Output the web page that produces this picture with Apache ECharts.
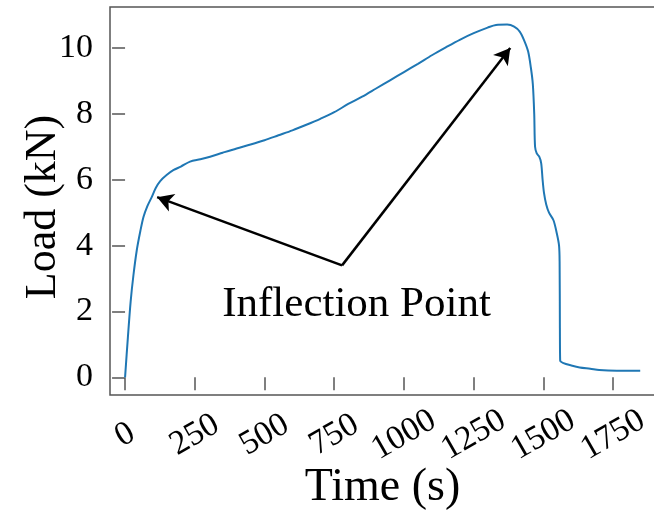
<!DOCTYPE html>
<html>
<head>
<meta charset="utf-8">
<script src="https://cdn.jsdelivr.net/npm/echarts@6/dist/echarts.min.js"></script>
<style>
  html, body { margin: 0; padding: 0; background: #fff; }
  #chart { width: 654px; height: 515px; }
</style>
</head>
<body>
<div id="chart"></div>
<script>
// load curve: time (s) and load (kN)
var times = [0, 10, 20, 30, 42, 55, 66, 80, 96, 110, 126, 150, 173, 200, 233, 270, 305, 350,
  400, 450, 500, 550, 600, 650, 700, 750, 800, 850, 900, 950, 1000, 1050, 1100, 1150, 1200,
  1250, 1300, 1330, 1370, 1395, 1415, 1430, 1445, 1455, 1462, 1467, 1470, 1476, 1485, 1492,
  1497, 1502, 1510, 1520, 1536, 1548, 1556, 1558, 1559, 1560, 1572, 1600, 1630, 1668, 1700,
  1763, 1847];
var loads = [0, 1.2, 2.3, 3.1, 3.86, 4.45, 4.87, 5.2, 5.48, 5.75, 5.96, 6.15, 6.29, 6.4, 6.55,
  6.62, 6.7, 6.82, 6.95, 7.07, 7.2, 7.35, 7.5, 7.67, 7.85, 8.05, 8.3, 8.52, 8.77, 9.02, 9.27,
  9.52, 9.78, 10.02, 10.25, 10.45, 10.62, 10.7, 10.71, 10.65, 10.5, 10.25, 9.9, 9.4, 8.9, 8.0,
  7.0, 6.8, 6.7, 6.5, 6.0, 5.6, 5.25, 5.0, 4.77, 4.37, 4.0, 3.5, 1.5, 0.51, 0.43, 0.36, 0.3,
  0.26, 0.22, 0.2, 0.2];

var xTicks = [0, 250, 500, 750, 1000, 1250, 1500, 1750];
var yTicks = [0, 2, 4, 6, 8, 10];

// annotation: text anchor and the two arrow tips
var noteFrom = [778, 3.4];
var noteTips = [[115, 5.47], [1381, 10.0]];
var noteText = "Inflection Point";
var notePos = [830, 2.2];

var d = [];
for (var i = 0; i < times.length; i++) {
  d.push([times[i], loads[i]]);
}

var font = "'Liberation Serif', 'DejaVu Serif', serif";
var axisGrey = "#555";

var chart = echarts.init(document.getElementById("chart"));

var option = {
  animation: false,
  grid: {
    left: 110,
    top: 7,
    width: 545,
    bottom: 120,
    outerBoundsMode: "none",
    containLabel: false,
    show: true,
    borderColor: axisGrey,
    borderWidth: 1.5
  },
  xAxis: {
    type: "value",
    min: -54,
    max: 1900,
    name: "Time (s)",
    nameLocation: "middle",
    nameMoveOverlap: false,
    nameGap: 70,
    nameTextStyle: { fontFamily: font, fontSize: 46, color: "#000" },
    axisLine: { show: false },
    splitLine: { show: false },
    axisTick: {
      show: true,
      length: 13,
      customValues: xTicks,
      lineStyle: { color: axisGrey, width: 1.5 }
    },
    axisLabel: {
      customValues: xTicks,
      formatter: function(v) {
        return String(v);
      },
      rotate: 30,
      align: "center",
      verticalAlign: "middle",
      margin: 40,
      fontFamily: font,
      fontSize: 34,
      color: "#000"
    }
  },
  yAxis: {
    type: "value",
    min: -0.536,
    max: 11.245,
    name: "Load (kN)",
    nameLocation: "middle",
    nameMoveOverlap: false,
    nameGap: 45,
    nameTextStyle: {
      fontFamily: font,
      fontSize: 44,
      color: "#000",
      padding: [0, 12, 0, 0]
    },
    axisLine: { show: false },
    splitLine: { show: false },
    axisTick: {
      show: true,
      length: 13,
      customValues: yTicks,
      lineStyle: { color: axisGrey, width: 1.5 }
    },
    axisLabel: {
      customValues: yTicks,
      margin: 17,
      fontFamily: font,
      fontSize: 34,
      color: "#000"
    }
  },
  series: [
    {
      name: "Load",
      type: "line",
      data: d,
      showSymbol: false,
      smooth: 0.3,
      lineStyle: { color: "#1f77b4", width: 2 },
      markLine: {
        silent: true,
        symbol: ["none", "arrow"],
        symbolSize: [14, 16],
        label: { show: false },
        lineStyle: { color: "#000", width: 2.5, type: "solid" },
        data: [
          [{ coord: noteFrom }, { coord: noteTips[0] }],
          [{ coord: noteFrom }, { coord: noteTips[1] }]
        ]
      },
      markPoint: {
        silent: true,
        symbol: "circle",
        symbolSize: 0,
        label: {
          show: true,
          position: "inside",
          formatter: noteText,
          fontFamily: font,
          fontSize: 43,
          color: "#000"
        },
        data: [{ coord: notePos }]
      }
    }
  ]
};
chart.setOption(option);
</script>
</body>
</html>
